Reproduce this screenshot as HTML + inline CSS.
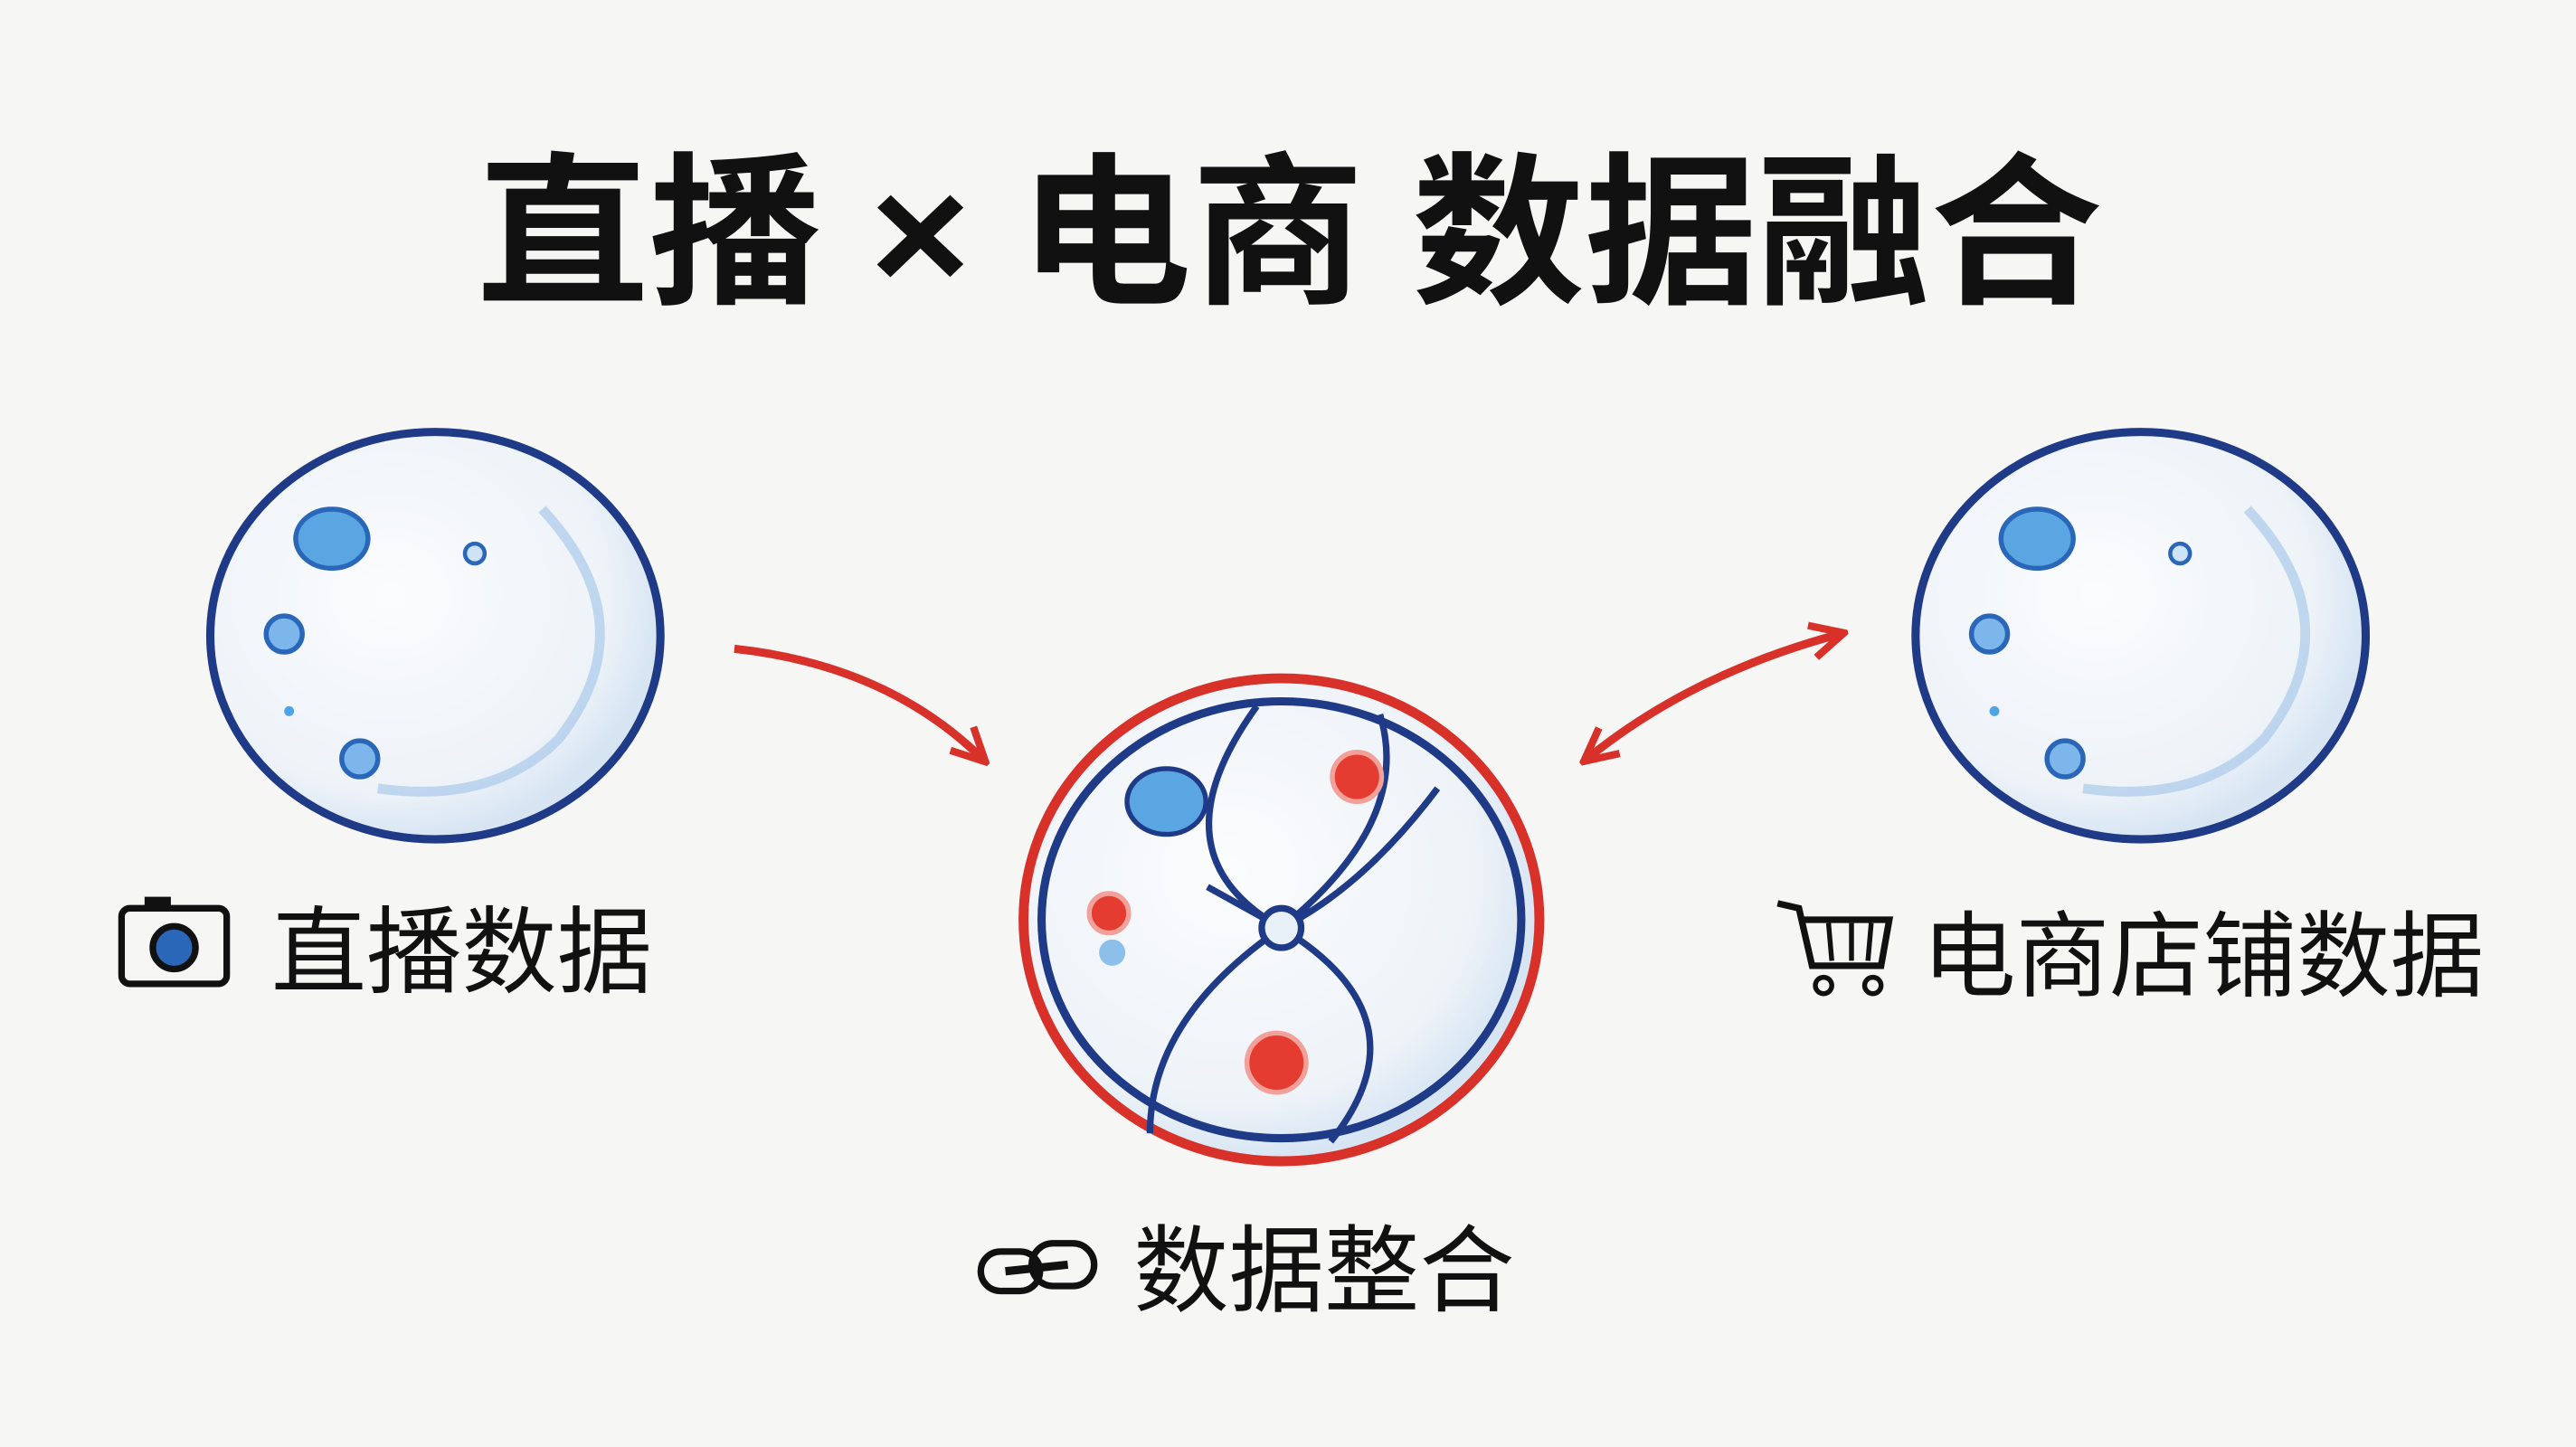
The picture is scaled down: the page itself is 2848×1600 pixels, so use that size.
<!DOCTYPE html>
<html><head><meta charset="utf-8"><style>
html,body{margin:0;padding:0;background:#f6f6f5;}
svg{display:block}
text{font-family:"Liberation Sans","Noto Sans CJK SC",sans-serif;fill:#111}
</style></head><body>
<svg width="2848" height="1600" viewBox="0 0 1568 881" preserveAspectRatio="none">
<rect width="1568" height="881" fill="#f6f6f5"/>
<text x="290" y="177" font-size="100" font-weight="bold" textLength="990" lengthAdjust="spacingAndGlyphs">直播 × 电商 数据融合</text>
<defs>
<radialGradient id="g" cx="0.4" cy="0.4" r="0.6"><stop offset="0" stop-color="#fbfcfd"/><stop offset="0.8" stop-color="#eef3f8"/><stop offset="1" stop-color="#d7e5f3"/></radialGradient>
<marker id="ah" viewBox="0 0 10 10" refX="8" refY="5" markerWidth="5" markerHeight="5" orient="auto-start-reverse"><path d="M1,1 L9,5 L1,9" fill="none" stroke="#d8312a" stroke-width="1.8"/></marker>
</defs>
<ellipse cx="265" cy="387" rx="137" ry="124" fill="url(#g)" stroke="#1f3a87" stroke-width="5"/>
<path d="M330,310 Q395,380 340,450 Q300,490 230,480" fill="none" stroke="#a9c9ea" stroke-width="6" opacity="0.7"/>
<ellipse cx="202" cy="328" rx="22" ry="18" fill="#5aa6e3" stroke="#2a67b8" stroke-width="3"/>
<circle cx="173" cy="386" r="11" fill="#7cb6ea" stroke="#2a67b8" stroke-width="3"/>
<circle cx="219" cy="462" r="11" fill="#7cb6ea" stroke="#2a67b8" stroke-width="3"/>
<circle cx="289" cy="337" r="6" fill="#cfe3f6" stroke="#2a67b8" stroke-width="2.5"/>
<circle cx="176" cy="433" r="3" fill="#4aa4e6"/>
<ellipse cx="1303" cy="387" rx="137" ry="124" fill="url(#g)" stroke="#1f3a87" stroke-width="5"/>
<path d="M1368,310 Q1433,380 1378,450 Q1338,490 1268,480" fill="none" stroke="#a9c9ea" stroke-width="6" opacity="0.7"/>
<ellipse cx="1240" cy="328" rx="22" ry="18" fill="#5aa6e3" stroke="#2a67b8" stroke-width="3"/>
<circle cx="1211" cy="386" r="11" fill="#7cb6ea" stroke="#2a67b8" stroke-width="3"/>
<circle cx="1257" cy="462" r="11" fill="#7cb6ea" stroke="#2a67b8" stroke-width="3"/>
<circle cx="1327" cy="337" r="6" fill="#cfe3f6" stroke="#2a67b8" stroke-width="2.5"/>
<circle cx="1214" cy="433" r="3" fill="#4aa4e6"/>
<ellipse cx="780" cy="560" rx="157" ry="147" fill="url(#g)" stroke="#d8312a" stroke-width="6"/>
<ellipse cx="780" cy="560" rx="146" ry="133" fill="none" stroke="#1f3a87" stroke-width="5"/>
<path d="M765,430 Q700,520 780,565 Q870,620 810,695 M840,435 Q860,500 780,565 Q700,620 700,690 M735,540 L780,565 M875,480 Q830,540 780,565" fill="none" stroke="#1f3a87" stroke-width="4"/>
<circle cx="780" cy="565" r="12" fill="#e8f0f8" stroke="#1f3a87" stroke-width="4"/>
<ellipse cx="710" cy="488" rx="24" ry="20" fill="#5aa6e3" stroke="#1f3a87" stroke-width="3"/>
<circle cx="826" cy="473" r="15" fill="#e53c32" stroke="#f2a09a" stroke-width="3"/>
<circle cx="675" cy="556" r="12" fill="#e53c32" stroke="#f2a09a" stroke-width="3"/>
<circle cx="677" cy="580" r="8" fill="#8cc0ea"/>
<circle cx="777" cy="647" r="18" fill="#e53c32" stroke="#f2a09a" stroke-width="3"/>
<path d="M447,395 Q540,405 598,462" fill="none" stroke="#d8312a" stroke-width="5" marker-end="url(#ah)"/>
<path d="M966,462 Q1030,410 1120,386" fill="none" stroke="#d8312a" stroke-width="5" marker-start="url(#ah)" marker-end="url(#ah)"/>
<rect x="74" y="553" width="64" height="46" rx="5" fill="none" stroke="#111" stroke-width="4"/>
<rect x="88" y="546" width="16" height="8" fill="#111"/>
<circle cx="106" cy="577" r="13" fill="#2a67b8" stroke="#111" stroke-width="4"/>
<text x="165" y="600" font-size="58">直播数据</text>
<path d="M1082,550 L1095,553 L1103,588 L1145,588 L1150,560 L1097,560" fill="none" stroke="#111" stroke-width="4"/>
<path d="M1113,562 L1115,585 M1127,562 L1127,585 M1139,562 L1137,585" stroke="#111" stroke-width="3"/>
<circle cx="1110" cy="600" r="5" fill="none" stroke="#111" stroke-width="3"/>
<circle cx="1140" cy="600" r="5" fill="none" stroke="#111" stroke-width="3"/>
<text x="1170" y="602" font-size="57">电商店铺数据</text>
<rect x="597" y="762" width="36" height="24" rx="12" fill="none" stroke="#111" stroke-width="4"/>
<rect x="628" y="757" width="38" height="26" rx="13" fill="none" stroke="#111" stroke-width="4"/>
<line x1="612" y1="774" x2="650" y2="770" stroke="#111" stroke-width="5"/>
<text x="690" y="794" font-size="58">数据整合</text>
</svg>
</body></html>
